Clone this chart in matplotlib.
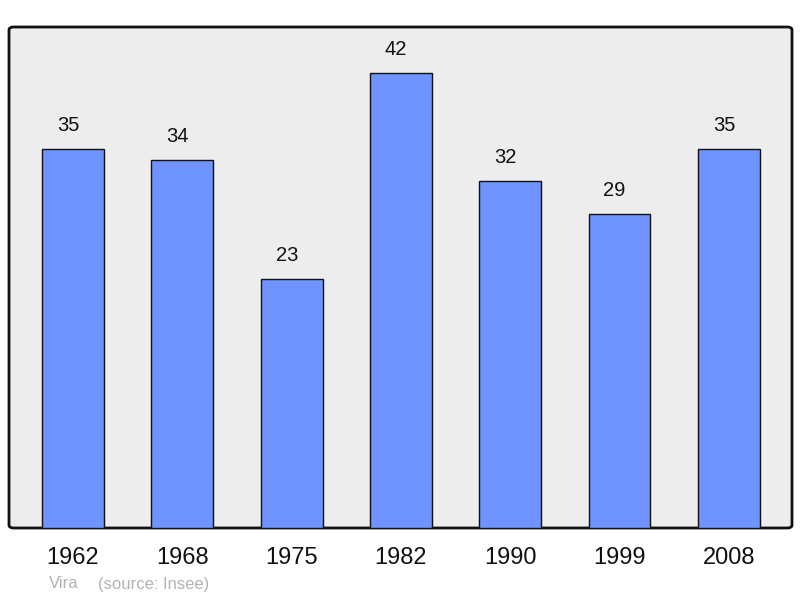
import matplotlib.pyplot as plt
from matplotlib.patches import FancyBboxPatch

plt.rcParams['font.family'] = ['Liberation Sans', 'DejaVu Sans']

# Data
years = ['1962', '1968', '1975', '1982', '1990', '1999', '2008']
population = [35, 34, 23, 42, 32, 29, 35]

fig = plt.figure(figsize=(8, 5.98), dpi=100)
ax = fig.add_axes([9 / 800, 70 / 598, 783 / 800, 501 / 598])
ax.set_facecolor('none')

# Rounded frame behind the bars
frame = FancyBboxPatch((0, 0), 1, 1, boxstyle='round,pad=0,rounding_size=0.006',
                       transform=ax.transAxes, facecolor='#ededed',
                       edgecolor='#111111', linewidth=2, zorder=0, clip_on=False)
ax.add_patch(frame)

x = range(len(years))
bars = ax.bar(x, population, width=0.567, color='#7094ff', edgecolor='#111111',
              linewidth=1, zorder=2)

# value labels sit a bit left of bar centre in the original
for xi, v in zip(x, population):
    ax.annotate(str(v), (xi, v), xytext=(-3.5, 10), textcoords='offset points',
                ha='center', va='bottom', fontsize=14.5, color='#111111')

ax.set_xlim(-0.585, 6.578)
ax.set_ylim(0, 46.25)
for s in ax.spines.values():
    s.set_visible(False)
ax.set_yticks([])
ax.set_xticks(list(x))
ax.set_xticklabels(years, fontsize=17, color='#111111')
ax.tick_params(axis='x', length=0, pad=14)

fig.text(49 / 800, 1 - 584 / 598, 'Vira', fontsize=12, color='#b3b3b3',
         ha='left', va='center')
fig.text(98 / 800, 1 - 584 / 598, '(source: Insee)', fontsize=12, color='#b3b3b3',
         ha='left', va='center')

plt.savefig('out.png', dpi=100)
